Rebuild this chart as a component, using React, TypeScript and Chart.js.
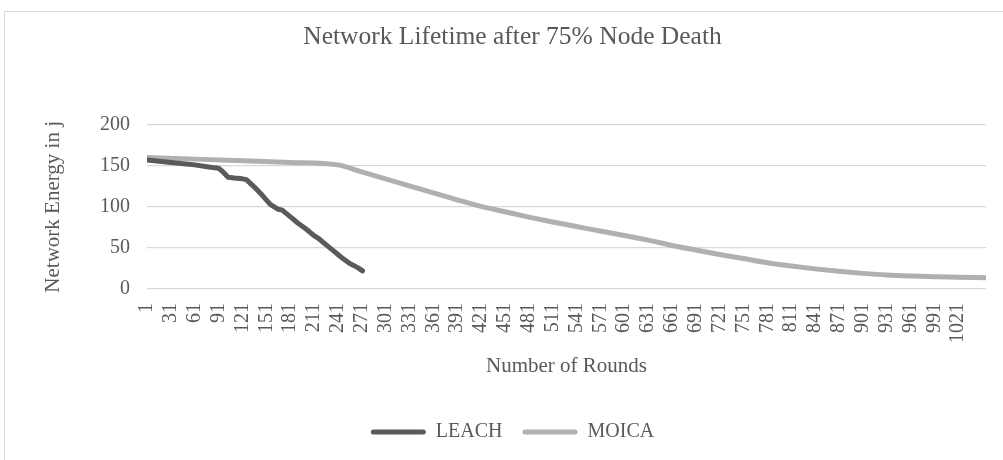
import { useEffect, useRef } from "react";
import { Chart, registerables } from "chart.js";

Chart.register(...registerables);

const TITLE = "Network Lifetime after 75% Node Death";
const X_TITLE = "Number of Rounds";
const Y_TITLE = "Network Energy in j";

const ROUND_TICKS = [
  1, 31, 61, 91, 121, 151, 181, 211, 241, 271, 301, 331, 361, 391, 421, 451, 481, 511,
  541, 571, 601, 631, 661, 691, 721, 751, 781, 811, 841, 871, 901, 931, 961, 991, 1021,
];

const LEACH_ROUNDS = [
  1, 31, 61, 81, 91, 96, 103, 111, 121, 126, 136, 146, 156, 166, 171, 181, 191, 201, 211,
  216, 226, 236, 246, 256, 266, 272,
];
const LEACH_ENERGY = [
  157, 154, 151, 148, 147, 143, 136, 135, 134, 133, 124, 114, 103, 97, 96, 88, 80, 73, 65,
  62, 54, 46, 38, 31, 26, 22,
];

const MOICA_ROUNDS = [
  1, 61, 121, 181, 241, 271, 301, 331, 361, 391, 421, 451, 481, 511, 541, 571, 601, 631,
  661, 691, 721, 751, 781, 811, 841, 871, 901, 931, 961, 991, 1021, 1056,
];
const MOICA_ENERGY = [
  160, 158, 156, 154, 151, 142.5, 134, 125.5, 117, 108.5, 100.5, 94, 87.5, 81.5, 76, 70.5,
  65, 59.5, 53, 47.5, 42, 37, 32, 28, 24.5, 21.5, 19, 17, 15.8, 15, 14.3, 13.8,
];

const X_MIN = 1;
const X_MAX = 1056;
const Y_MIN = 0;
const Y_MAX = 200;
const Y_STEP = 50;

const TEXT = "#595959";
const GRID = "#d9d9d9";
const FONT = "'Liberation Serif', 'Times New Roman', serif";

export default function App() {
  const ref = useRef<HTMLCanvasElement>(null);

  useEffect(() => {
    const canvas = ref.current;
    if (!canvas) return;
    const chart = new Chart(canvas, {
      type: "line",
      data: {
        datasets: [
          {
            label: "LEACH",
            data: LEACH_ROUNDS.map((r, i) => ({ x: r, y: LEACH_ENERGY[i] })),
            borderColor: "#5a5a5a",
            backgroundColor: "#5a5a5a",
            borderWidth: 5,
            pointRadius: 0,
            tension: 0,
            borderCapStyle: "round",
            borderJoinStyle: "round",
          },
          {
            label: "MOICA",
            data: MOICA_ROUNDS.map((r, i) => ({ x: r, y: MOICA_ENERGY[i] })),
            borderColor: "#b0b0b0",
            backgroundColor: "#b0b0b0",
            borderWidth: 5,
            pointRadius: 0,
            cubicInterpolationMode: "monotone",
            borderCapStyle: "round",
            borderJoinStyle: "round",
          },
        ],
      },
      options: {
        responsive: false,
        animation: false,
        layout: { padding: { left: 34, right: 33, top: 0, bottom: 8 } },
        plugins: {
          title: {
            display: true,
            text: TITLE,
            color: TEXT,
            font: { family: FONT, size: 25.5, weight: "normal" },
            padding: { top: 10, bottom: 72 },
          },
          legend: {
            position: "bottom",
            labels: {
              color: TEXT,
              font: { family: FONT, size: 20 },
              boxWidth: 55,
              boxHeight: 5,
              padding: 20,
              useBorderRadius: true,
              borderRadius: 2.5,
              generateLabels: (c: any) =>
                Chart.defaults.plugins.legend.labels
                  .generateLabels(c)
                  .map((l: any) => ({ ...l, lineWidth: 0, borderRadius: 2.5 })),
            },
          },
          tooltip: { enabled: false },
        },
        scales: {
          x: {
            type: "linear",
            min: X_MIN,
            max: X_MAX,
            grid: { display: false, drawTicks: false },
            border: { display: false },
            afterBuildTicks: (scale: any) => {
              scale.ticks = ROUND_TICKS.map((v) => ({ value: v }));
            },
            afterFit: (scale: any) => {
              scale.height = 113;
            },
            ticks: {
              autoSkip: false,
              minRotation: 90,
              maxRotation: 90,
              padding: 14,
              color: TEXT,
              font: { family: FONT, size: 20 },
              callback: (v: any) => String(v),
            },
            title: {
              display: true,
              text: X_TITLE,
              color: TEXT,
              font: { family: FONT, size: 21 },
              padding: { top: 0, bottom: 23 },
            },
          },
          y: {
            min: Y_MIN,
            max: Y_MAX,
            grid: { color: GRID, lineWidth: 1.3, drawTicks: false },
            border: { display: false },
            afterFit: (scale: any) => {
              scale.width = 108;
            },
            ticks: {
              stepSize: Y_STEP,
              padding: 17,
              color: TEXT,
              font: { family: FONT, size: 20 },
            },
            title: {
              display: true,
              text: Y_TITLE,
              color: TEXT,
              font: { family: FONT, size: 21 },
              padding: { top: 2, bottom: 0 },
            },
          },
        },
      },
    } as any);
    return () => chart.destroy();
  }, []);

  return (
    <div
      style={{
        position: "fixed",
        left: 0,
        top: 0,
        width: 1003,
        height: 460,
        overflow: "hidden",
        background: "#ffffff",
      }}
    >
      <div
        style={{
          position: "absolute",
          left: 4,
          top: 11,
          width: 1014,
          height: 460,
          border: `1px solid ${GRID}`,
        }}
      >
        <canvas ref={ref} width={1014} height={448} style={{ display: "block" }} />
      </div>
    </div>
  );
}
